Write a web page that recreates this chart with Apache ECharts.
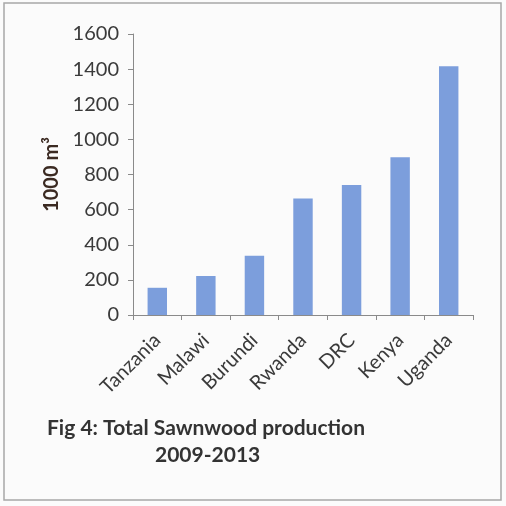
<!DOCTYPE html>
<html>
<head>
<meta charset="utf-8">
<script src="https://cdn.jsdelivr.net/npm/echarts@6/dist/echarts.min.js"></script>
<style>
  html, body { margin: 0; padding: 0; background: #fbfbfb; }
  #chart { width: 506px; height: 506px; }
</style>
</head>
<body>
<div id="chart"></div>
<script>
// Sawnwood production by country, 2009-2013 (1000 m3)
const countries = ['Tanzania', 'Malawi', 'Burundi', 'Rwanda', 'DRC', 'Kenya', 'Uganda'];
const production = [155, 222, 338, 664, 740, 898, 1416];
const yTicks = [0, 200, 400, 600, 800, 1000, 1200, 1400, 1600];

const font = 'Lato, "Open Sans", sans-serif';
const chart = echarts.init(document.getElementById('chart'), null, { renderer: 'canvas' });

chart.setOption({
  backgroundColor: '#fbfbfb',
  animation: false,
  grid: { left: 133, right: 33, top: 34, bottom: 191, containLabel: false },
  xAxis: {
    type: 'category',
    data: countries,
    axisLine: { lineStyle: { color: '#8a8a8a', width: 1 } },
    axisTick: { show: true, length: 5, lineStyle: { color: '#8a8a8a' } },
    axisLabel: {
      rotate: 45, margin: 22, color: '#3a3a3a',
      fontFamily: font, fontSize: 20
    }
  },
  yAxis: {
    type: 'value',
    min: yTicks[0],
    max: yTicks[yTicks.length - 1],
    interval: 200,
    name: '1000 m³',
    nameLocation: 'middle',
    nameGap: 70,
    nameRotate: 90,
    nameTextStyle: { color: '#3b2a22', fontFamily: font, fontSize: 20, fontWeight: 'bold' },
    splitLine: { show: false },
    axisLine: { show: true, lineStyle: { color: '#8a8a8a', width: 1 } },
    axisTick: { show: true, length: 5, lineStyle: { color: '#8a8a8a' } },
    axisLabel: {
      color: '#3a3a3a', fontFamily: font, fontSize: 20, margin: 14,
      formatter: v => String(v)
    }
  },
  series: [{
    type: 'bar',
    data: production,
    barWidth: '40%',
    itemStyle: { color: '#7c9edc' }
  }],
  graphic: [
    {
      type: 'rect',
      shape: { x: 4, y: 3, width: 497, height: 497 },
      style: { fill: 'none', stroke: '#a8a8a8', lineWidth: 1.5 }
    },
    {
      type: 'text',
      left: 47, top: 418,
      style: {
        text: 'Fig 4: Total Sawnwood production',
        fill: '#333333', font: 'bold 21px ' + font
      }
    },
    {
      type: 'text',
      left: 155, top: 445,
      style: {
        text: '2009-2013',
        fill: '#333333', font: 'bold 21px ' + font
      }
    }
  ]
});
</script>
</body>
</html>
